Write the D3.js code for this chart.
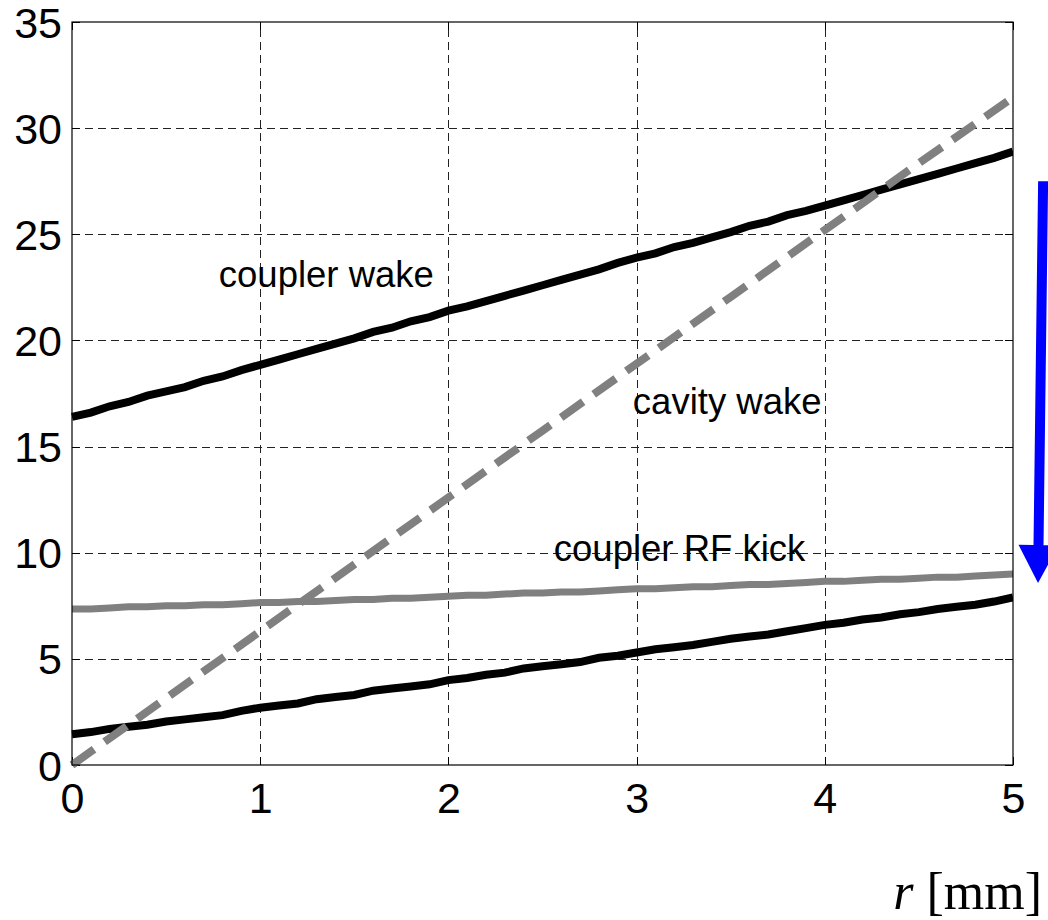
<!DOCTYPE html>
<html>
<head>
<meta charset="utf-8">
<script src="https://cdn.jsdelivr.net/npm/d3@7"></script>
<style>
  html, body { margin: 0; padding: 0; background: #fff; }
  svg { display: block; }
</style>
</head>
<body>
<svg id="chart" width="1048" height="920"></svg>
<script>
// ---- data ----
const rValues = d3.range(0, 51).map(i => +(i / 10).toFixed(1));
const couplerWake = [16.4,16.6,16.9,17.1,17.4,17.6,17.8,18.1,18.3,18.6,18.85,
  19.1,19.35,19.6,19.85,20.1,20.4,20.6,20.9,21.1,21.4,
  21.6,21.85,22.1,22.35,22.6,22.85,23.1,23.35,23.65,23.9,
  24.1,24.4,24.6,24.85,25.1,25.4,25.6,25.9,26.1,26.35,
  26.6,26.85,27.1,27.35,27.6,27.85,28.1,28.35,28.6,28.9];
const rfKick = [7.35,7.35,7.4,7.45,7.45,7.5,7.5,7.55,7.55,7.6,7.65,
  7.65,7.7,7.7,7.75,7.8,7.8,7.85,7.85,7.9,7.95,
  8.0,8.0,8.05,8.1,8.1,8.15,8.15,8.2,8.25,8.3,
  8.3,8.35,8.4,8.4,8.45,8.5,8.5,8.55,8.6,8.65,
  8.65,8.7,8.75,8.75,8.8,8.85,8.85,8.9,8.95,9.0];
const lowerWake = [1.45,1.55,1.7,1.8,1.9,2.05,2.15,2.25,2.35,2.55,2.7,
  2.8,2.9,3.1,3.2,3.3,3.5,3.6,3.7,3.8,4.0,
  4.1,4.25,4.35,4.55,4.65,4.75,4.85,5.05,5.15,5.3,
  5.45,5.55,5.65,5.8,5.95,6.05,6.15,6.3,6.45,6.6,
  6.7,6.85,6.95,7.1,7.2,7.35,7.45,7.55,7.7,7.9];
const cavityR = [0,0.5,1,1.5,2,2.5,3,3.5,4,4.5,5];
const cavityWake = [0,3.15,6.3,9.45,12.6,15.75,18.9,22.05,25.2,28.35,31.45];

const xTicks = [0,1,2,3,4,5];
const yTicks = [0,5,10,15,20,25,30,35];
const xTickLabels = ["0","1","2","3","4","5"];
const yTickLabels = ["0","5","10","15","20","25","30","35"];

const labels = [
  {text: "coupler wake", r: 0.78, v: 22.5},
  {text: "cavity wake", r: 2.98, v: 16.55},
  {text: "coupler RF kick", r: 2.56, v: 9.6}
];
const arrowStart = {r: 5.16, v: 27.5};
const arrowEnd = {r: 5.133, v: 8.57};

// ---- layout ----
const svg = d3.select("#chart");
const L = 72, R = 1013, T = 22, B = 765;
const x = d3.scaleLinear().domain([0, 5]).range([L, R]);
const y = d3.scaleLinear().domain([0, 35]).range([B, T]);
const W = R - L, H = B - T;
const tickFont = "'Liberation Sans', Arial, sans-serif";

// grid
const grid = svg.append("g");
grid.append("g").attr("transform", `translate(0,${B})`)
  .call(d3.axisBottom(x).tickValues([1,2,3,4]).tickSize(-H).tickFormat(""))
  .call(g => g.select(".domain").remove());
grid.append("g").attr("transform", `translate(${L},0)`)
  .call(d3.axisLeft(y).tickValues([5,10,15,20,25,30]).tickSize(-W).tickFormat(""))
  .call(g => g.select(".domain").remove());
grid.selectAll("line").attr("stroke", "#222").attr("stroke-width", 1)
  .attr("stroke-dasharray", "8,5").attr("shape-rendering", "crispEdges");

// inward ticks
function ticks(axis, tr) {
  const g = svg.append("g").attr("transform", tr).call(axis);
  g.select(".domain").remove();
  g.selectAll("line").attr("stroke", "#000").attr("stroke-width", 1).attr("shape-rendering", "crispEdges");
  return g;
}
const leftAx = ticks(d3.axisLeft(y).tickValues(yTicks).tickSize(-8).tickPadding(10)
  .tickFormat((d, i) => yTickLabels[i]), `translate(${L},0)`);
const bottomAx = ticks(d3.axisBottom(x).tickValues(xTicks).tickSize(-8).tickPadding(17)
  .tickFormat((d, i) => xTickLabels[i]), `translate(0,${B})`);
ticks(d3.axisRight(y).tickValues(yTicks).tickSize(-8).tickFormat(""), `translate(${R},0)`);
ticks(d3.axisTop(x).tickValues(xTicks).tickSize(-8).tickFormat(""), `translate(0,${T})`);
[leftAx, bottomAx].forEach(g => g.selectAll("text")
  .attr("font-family", tickFont).attr("font-size", 43).attr("fill", "#000"));
leftAx.selectAll("text").attr("dy", "0.35em");

// clip for data lines
svg.append("clipPath").attr("id", "clip").append("rect")
  .attr("x", L - 4).attr("y", T).attr("width", W + 4).attr("height", H + 4);

const line = d3.line().x(d => x(d[0])).y(d => y(d[1]));
const plot = svg.append("g").attr("clip-path", "url(#clip)");

plot.append("path").datum(rValues.map((r, i) => [r, rfKick[i]]))
  .attr("d", line).attr("fill", "none").attr("stroke", "#808080").attr("stroke-width", 7);
plot.append("path").datum(rValues.map((r, i) => [r, lowerWake[i]]))
  .attr("d", line).attr("fill", "none").attr("stroke", "#000").attr("stroke-width", 8);
plot.append("path").datum(rValues.map((r, i) => [r, couplerWake[i]]))
  .attr("d", line).attr("fill", "none").attr("stroke", "#000").attr("stroke-width", 8);
plot.append("path").datum(cavityR.map((r, i) => [r, cavityWake[i]]))
  .attr("d", line).attr("fill", "none").attr("stroke", "#808080").attr("stroke-width", 8)
  .attr("stroke-dasharray", "27,13");

// frame
svg.append("rect").attr("x", L).attr("y", T).attr("width", W).attr("height", H)
  .attr("fill", "none").attr("stroke", "#000").attr("stroke-width", 1.2);

// labels
svg.selectAll("text.lbl").data(labels).enter().append("text")
  .attr("class", "lbl")
  .attr("x", d => x(d.r)).attr("y", d => y(d.v))
  .attr("font-family", tickFont).attr("font-size", 36.5).attr("fill", "#000")
  .text(d => d.text);

// arrow
(function () {
  const x1 = x(arrowStart.r), y1 = y(arrowStart.v);
  const x2 = x(arrowEnd.r), y2 = y(arrowEnd.v);
  const dx = x2 - x1, dy = y2 - y1, len = Math.hypot(dx, dy);
  const ux = dx / len, uy = dy / len, px = -uy, py = ux;
  const headLen = 38, headHalf = 20, shaftHalf = 5;
  const bx = x2 - ux * headLen, by = y2 - uy * headLen;
  const pts = [
    [x1 + px * shaftHalf, y1 + py * shaftHalf],
    [bx + px * shaftHalf, by + py * shaftHalf],
    [bx + px * headHalf, by + py * headHalf],
    [x2, y2],
    [bx - px * headHalf, by - py * headHalf],
    [bx - px * shaftHalf, by - py * shaftHalf],
    [x1 - px * shaftHalf, y1 - py * shaftHalf]
  ];
  svg.append("path").attr("d", "M" + pts.map(p => p.join(",")).join("L") + "Z")
    .attr("fill", "#0000ff");
})();

// x axis title
const title = svg.append("text").attr("x", 1042).attr("y", 909)
  .attr("text-anchor", "end")
  .attr("font-family", "'Liberation Serif', 'Times New Roman', serif")
  .attr("font-size", 52).attr("fill", "#000");
title.append("tspan").attr("font-style", "italic").text("r");
title.append("tspan").text(" [mm]");
</script>
</body>
</html>
